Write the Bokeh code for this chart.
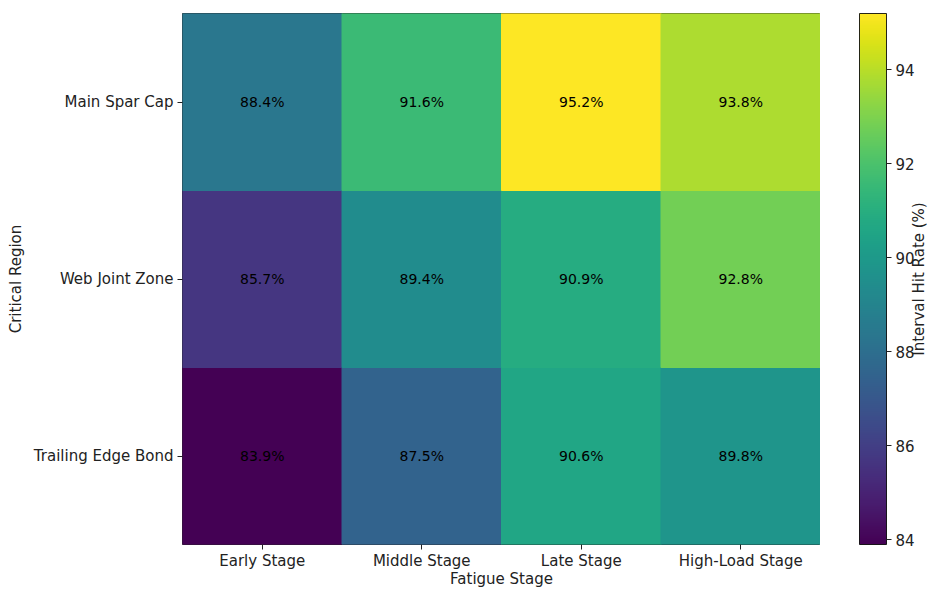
import math
from bokeh.plotting import figure
from bokeh.layouts import row
from bokeh.models import (ColumnDataSource, LinearColorMapper, ColorBar, FixedTicker,
                          FactorRange, Range1d)
from bokeh.core.properties import value
from bokeh.palettes import Viridis256
from bokeh.transform import transform
from bokeh.embed import file_html
from bokeh.resources import INLINE

stages = ["Early Stage", "Middle Stage", "Late Stage", "High-Load Stage"]
regions = ["Trailing Edge Bond", "Web Joint Zone", "Main Spar Cap"]  # bottom to top

main_spar_cap = [88.4, 91.6, 95.2, 93.8]
web_joint_zone = [85.7, 89.4, 90.9, 92.8]
trailing_edge_bond = [83.9, 87.5, 90.6, 89.8]

colorbar_ticks = [84, 86, 88, 90, 92, 94]
colorbar_title = "Interval Hit Rate (%)"

rows = {"Main Spar Cap": main_spar_cap,
        "Web Joint Zone": web_joint_zone,
        "Trailing Edge Bond": trailing_edge_bond}

xs, ys, vals, labels = [], [], [], []
for reg in regions:
    for st, v in zip(stages, rows[reg]):
        xs.append(st)
        ys.append(reg)
        vals.append(v)
        labels.append(f"{v:.1f}%")

src = ColumnDataSource(dict(x=xs, y=ys, v=vals, t=labels))
all_vals = main_spar_cap + web_joint_zone + trailing_edge_bond
vmin, vmax = min(all_vals), max(all_vals)
mapper = LinearColorMapper(palette=Viridis256, low=vmin, high=vmax)

FONT = "DejaVu Sans"
TXT = "#222222"

# ---- heatmap -------------------------------------------------------------
p = figure(x_range=FactorRange(*stages), y_range=FactorRange(*regions),
           frame_width=638, frame_height=531,
           min_border_left=182, min_border_top=13, min_border_bottom=46, min_border_right=0,
           output_backend="svg", toolbar_location=None, background_fill_color="white")

p.rect(x="x", y="y", width=1, height=1, source=src,
       fill_color=transform("v", mapper), line_color=transform("v", mapper), line_width=1)
p.text(x="x", y="y", text="t", source=src, text_align="center", text_baseline="middle",
       text_font=value(FONT), text_font_size="14px", text_color="black")

p.grid.visible = False
p.outline_line_color = "black"
p.outline_line_alpha = 0.85
p.outline_line_width = 1

for ax in (p.xaxis[0], p.yaxis[0]):
    ax.major_label_text_font = FONT
    ax.major_label_text_font_size = "15px"
    ax.major_label_text_color = TXT
    ax.axis_label_text_font = FONT
    ax.axis_label_text_font_size = "15px"
    ax.axis_label_text_font_style = "normal"
    ax.axis_label_text_color = TXT
    ax.major_tick_out = 5
    ax.major_tick_in = 0
    ax.major_tick_line_color = TXT
    ax.axis_line_color = None
    ax.major_label_standoff = 4

p.xaxis.axis_label = "Fatigue Stage"
p.xaxis.axis_label_standoff = -3
p.xaxis.major_label_standoff = 2
p.yaxis.axis_label = "Critical Region"
p.yaxis.axis_label_standoff = 6

# ---- colour bar panel ----------------------------------------------------
cbp = figure(x_range=Range1d(0, 114), y_range=Range1d(vmin, vmax),
             frame_width=114, frame_height=531,
             min_border_left=0, min_border_right=0, min_border_top=13, min_border_bottom=46,
             x_axis_location=None, y_axis_location=None,
             output_backend="svg", toolbar_location=None)
cbp.grid.visible = False
cbp.outline_line_color = None

cb = ColorBar(color_mapper=mapper, width=27, height=531, padding=0, margin=0,
              location=(39, 0), ticker=FixedTicker(ticks=colorbar_ticks),
              major_label_text_font=FONT, major_label_text_font_size="15px",
              major_label_text_color=TXT,
              major_tick_out=5, major_tick_in=0, major_tick_line_color=TXT,
              bar_line_color="black", bar_line_alpha=0.85,
              background_fill_alpha=0, border_line_color=None,
              label_standoff=4)
cbp.add_layout(cb)

cbp.text(x=[98], y=[(vmin + vmax) / 2], text=[colorbar_title], angle=math.pi / 2,
         text_align="center", text_baseline="middle",
         text_font=value(FONT), text_font_size="15px", text_color=TXT)

layout = row(p, cbp, spacing=0)
open("out.html", "w").write(file_html(layout, INLINE))
